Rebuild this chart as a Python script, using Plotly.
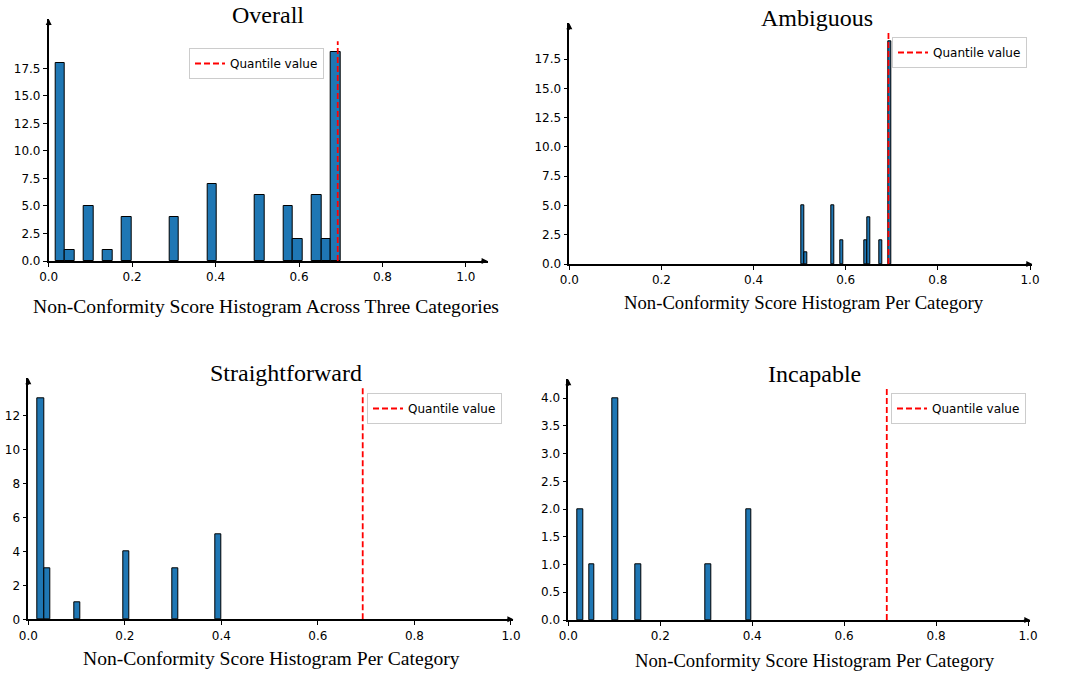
import plotly.graph_objects as go

# ---------------- data ----------------
quantile_value = 0.6928

overall_x = [0.0279, 0.0506, 0.0962, 0.1417, 0.1873, 0.3011, 0.3922,
             0.5060, 0.5743, 0.5971, 0.6426, 0.6654, 0.6881]
overall_y = [18, 1, 5, 1, 4, 4, 7, 6, 5, 2, 6, 2, 19]
overall_w = 0.02277

amb_x = [0.5077, 0.5142, 0.5727, 0.5922, 0.6442, 0.6507, 0.6767, 0.6962]
amb_y = [5, 1, 5, 2, 2, 4, 2, 19]
amb_w = 0.0065

sf_x = [0.0258, 0.0385, 0.1019, 0.2035, 0.3048, 0.3937]
sf_y = [13, 3, 1, 4, 3, 5]
sf_w = 0.01268

inc_x = [0.0259, 0.0512, 0.1018, 0.1524, 0.3042, 0.3928]
inc_y = [2, 1, 4, 1, 1, 2]
inc_w = 0.01265

x_ticks = [0.0, 0.2, 0.4, 0.6, 0.8, 1.0]
ticks_19 = [0.0, 2.5, 5.0, 7.5, 10.0, 12.5, 15.0, 17.5]
ticks_sf = [0, 2, 4, 6, 8, 10, 12]
ticks_inc = [0.0, 0.5, 1.0, 1.5, 2.0, 2.5, 3.0, 3.5, 4.0]

titles = ["Overall", "Ambiguous", "Straightforward", "Incapable"]
xlabels = ["Non-Conformity Score Histogram Across Three Categories",
           "Non-Conformity Score Histogram Per Category",
           "Non-Conformity Score Histogram Per Category",
           "Non-Conformity Score Histogram Per Category"]

# ---------------- layout geometry ----------------
W, H = 1068, 674


def fx(px):
    return px / W


def fy(py):
    return 1 - py / H


panels = [
    dict(xs=overall_x, ys=overall_y, w=overall_w, xr=[0, 1.052], yr=[0, 21.98],
         px=(48.7, 487.6), py=(19, 261), ytop=19.95, yt=ticks_19, yfmt=".1f",
         title_xy=(268, 15), xlab_xy=(266, 306), leg=(189, 48), lab=19.6),
    dict(xs=amb_x, ys=amb_y, w=amb_w, xr=[0, 1.005], yr=[0, 20.57],
         px=(569.3, 1032.3), py=(23.3, 264), ytop=19.95, yt=ticks_19, yfmt=".1f",
         title_xy=(817, 18), xlab_xy=(804, 303), leg=(892, 37), lab=18.7),
    dict(xs=sf_x, ys=sf_y, w=sf_w, xr=[0, 1.005], yr=[0, 14.2],
         px=(28.3, 513.4), py=(378.3, 619.3), ytop=13.65, yt=ticks_sf, yfmt="d",
         title_xy=(286, 373), xlab_xy=(271, 658), leg=(367, 393), lab=19.6),
    dict(xs=inc_x, ys=inc_y, w=inc_w, xr=[0, 1.005], yr=[0, 4.34],
         px=(568.3, 1030.3), py=(379.3, 620), ytop=4.2, yt=ticks_inc, yfmt=".1f",
         title_xy=(814, 374), xlab_xy=(815, 660), leg=(891, 393), lab=18.7),
]

fig = go.Figure()
annotations = []
serif = "Liberation Serif"
sans = "DejaVu Sans"

for i, p in enumerate(panels):
    n = "" if i == 0 else str(i + 1)
    xa, ya = "x" + n, "y" + n
    legname = "legend" + n
    fig.add_trace(go.Bar(x=p["xs"], y=p["ys"], width=p["w"], xaxis=xa, yaxis=ya,
                         marker=dict(color="#1f77b4", line=dict(color="black", width=1)),
                         showlegend=False))
    fig.add_trace(go.Scatter(x=[quantile_value, quantile_value], y=[0, p["ytop"]],
                             mode="lines", xaxis=xa, yaxis=ya, name="Quantile value",
                             line=dict(color="red", width=1.8, dash="6px,3px"),
                             legend=legname, showlegend=True))
    axcommon = dict(showgrid=False, zeroline=False, showline=True, linecolor="black",
                    linewidth=1.6, ticks="outside", ticklen=4, tickcolor="black",
                    automargin=False,
                    tickfont=dict(family=sans, size=12, color="black"))
    fig.layout["xaxis" + n] = dict(axcommon, domain=[fx(p["px"][0]), fx(p["px"][1])],
                                   range=p["xr"], anchor=ya, tickvals=x_ticks,
                                   tickformat=".1f")
    fig.layout["yaxis" + n] = dict(axcommon, domain=[fy(p["py"][1]), fy(p["py"][0])],
                                   range=p["yr"], anchor=xa, tickvals=p["yt"],
                                   tickformat=p["yfmt"])
    fig.layout[legname] = dict(x=fx(p["leg"][0]), y=fy(p["leg"][1]),
                               xanchor="left", yanchor="top",
                               bgcolor="rgba(255,255,255,0.8)", bordercolor="#cccccc",
                               borderwidth=1, font=dict(family=sans, size=12, color="black"))
    # arrowheads
    annotations.append(dict(xref=xa + " domain", yref=ya + " domain", x=1, y=0,
                            ax=-8, ay=0, showarrow=True, arrowhead=2, arrowsize=1,
                            arrowwidth=1.2, arrowcolor="black", text=""))
    annotations.append(dict(xref=xa + " domain", yref=ya + " domain", x=0, y=1,
                            ax=0, ay=8, showarrow=True, arrowhead=2, arrowsize=1,
                            arrowwidth=1.2, arrowcolor="black", text=""))
    # titles / axis labels
    annotations.append(dict(xref="paper", yref="paper", x=fx(p["title_xy"][0]),
                            y=fy(p["title_xy"][1]), text=titles[i], showarrow=False,
                            xanchor="center", yanchor="middle",
                            font=dict(family=serif, size=24, color="black")))
    annotations.append(dict(xref="paper", yref="paper", x=fx(p["xlab_xy"][0]),
                            y=fy(p["xlab_xy"][1]), text=xlabels[i], showarrow=False,
                            xanchor="center", yanchor="middle",
                            font=dict(family=serif, size=p["lab"], color="black")))

fig.update_layout(width=W, height=H, margin=dict(l=0, r=0, t=0, b=0, autoexpand=False),
                  plot_bgcolor="white", paper_bgcolor="white",
                  annotations=annotations, bargap=0)

fig.write_html("out.html", config={"displayModeBar": False},
               post_script="document.body.style.margin='0';document.body.style.overflow='hidden';")
